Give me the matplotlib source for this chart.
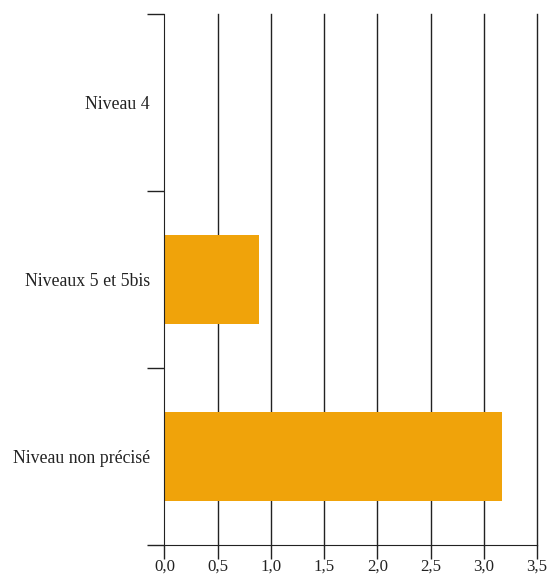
import matplotlib
matplotlib.use("Agg")
import matplotlib.pyplot as plt
from matplotlib.ticker import FixedLocator, FixedFormatter

categories = ["Niveau 4", "Niveaux 5 et 5bis", "Niveau non précisé"]
values = [0.0, 0.89, 3.17]
xticks = [0.0, 0.5, 1.0, 1.5, 2.0, 2.5, 3.0, 3.5]
xticklabels = ["0,0", "0,5", "1,0", "1,5", "2,0", "2,5", "3,0", "3,5"]

plt.rcParams['font.family'] = ['Liberation Serif', 'DejaVu Serif']
fig = plt.figure(figsize=(5.48, 5.75), dpi=100)
ax = fig.add_axes([0.300, 0.0522, 0.680, 0.9235])

n = len(categories)
ypos = list(range(n))
ax.barh(ypos, values, height=0.5, color="#F0A30A", zorder=3)
ax.set_ylim(n - 0.5, -0.5)
ax.set_xlim(0, 3.5)

for x in xticks[1:]:
    ax.axvline(x, color="#222222", lw=1, zorder=1, clip_on=False)

ax.xaxis.set_major_locator(FixedLocator(xticks))
ax.xaxis.set_major_formatter(FixedFormatter(xticklabels))
ax.yaxis.set_major_locator(FixedLocator(ypos))
ax.yaxis.set_major_formatter(FixedFormatter(categories))
ax.tick_params(axis='y', labelsize=12.8, labelcolor="#222222")
ax.tick_params(axis='x', labelsize=12.2, labelcolor="#222222")
ax.tick_params(axis='y', which='major', length=0, pad=10.5)
ax.yaxis.set_minor_locator(FixedLocator([i - 0.5 for i in range(n + 1)]))
ax.tick_params(axis='y', which='minor', length=12, width=1, color="#222222")
ax.tick_params(axis='x', which='major', length=10, width=1, color="#222222", pad=0)

for s in ['top', 'right']:
    ax.spines[s].set_visible(False)
ax.spines['left'].set_color("#222222")
ax.spines['bottom'].set_color("#222222")
ax.spines['left'].set_zorder(4)

fig.savefig("out.png", dpi=100)
